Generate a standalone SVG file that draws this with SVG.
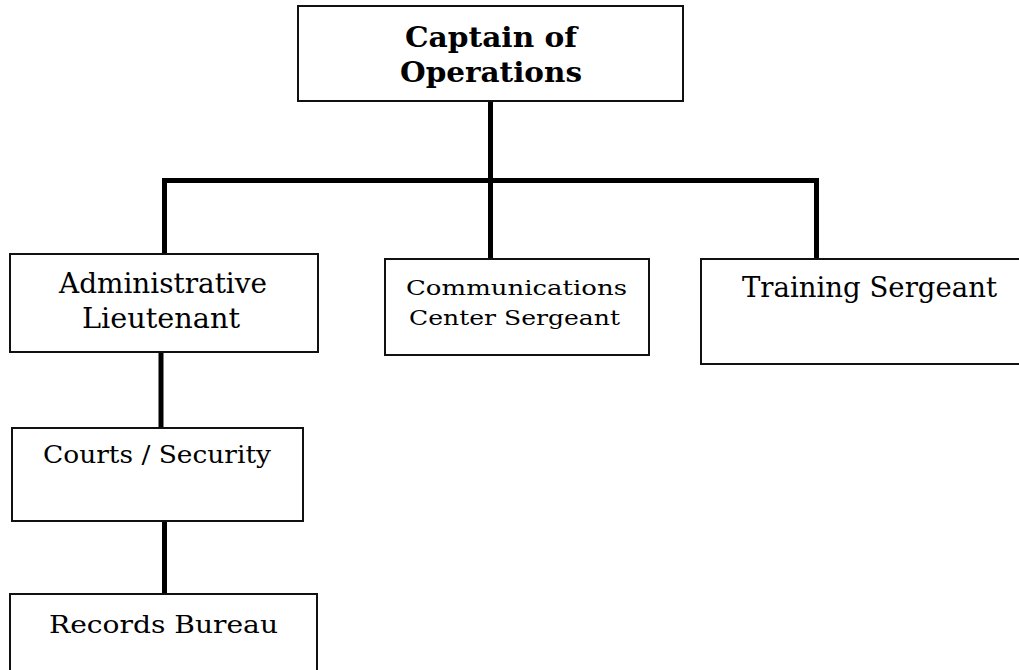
<svg xmlns="http://www.w3.org/2000/svg" width="1019" height="670" viewBox="0 0 1019 670">
  <style>
    .box { fill: #ffffff; stroke: #111111; stroke-width: 2; }
    .lbl { font-family: "DejaVu Serif", "Liberation Serif", serif; fill: #000000; text-anchor: middle; }
    .title { font-weight: bold; font-size: 27px; }
    .conn { stroke: #000000; stroke-width: 5; fill: none; stroke-linecap: square; }
  </style>
  <rect x="0" y="0" width="1019" height="670" fill="#ffffff"/>
  <g id="connectors">
    <line class="conn" x1="490.5" y1="103" x2="490.5" y2="257"/>
    <line class="conn" x1="164.5" y1="180.5" x2="816.5" y2="180.5"/>
    <line class="conn" x1="164.5" y1="180.5" x2="164.5" y2="252"/>
    <line class="conn" x1="816.5" y1="180.5" x2="816.5" y2="257"/>
    <line class="conn" x1="161" y1="354" x2="161" y2="426"/>
    <line class="conn" x1="164.5" y1="523" x2="164.5" y2="592"/>
  </g>
  <g id="captain">
    <rect class="box" x="298" y="6" width="385" height="95"/>
    <text class="lbl title" x="491" y="47" textLength="172" lengthAdjust="spacingAndGlyphs">Captain of</text>
    <text class="lbl title" x="491" y="82" textLength="182" lengthAdjust="spacingAndGlyphs">Operations</text>
  </g>
  <g id="admin">
    <rect class="box" x="10" y="254" width="308" height="98"/>
    <text class="lbl" x="163" y="293" font-size="27" textLength="208" lengthAdjust="spacingAndGlyphs">Administrative</text>
    <text class="lbl" x="161" y="328" font-size="27" textLength="158" lengthAdjust="spacingAndGlyphs">Lieutenant</text>
  </g>
  <g id="comm">
    <rect class="box" x="385" y="259" width="264" height="96"/>
    <text class="lbl" x="516.5" y="295" font-size="21" textLength="221" lengthAdjust="spacingAndGlyphs">Communications</text>
    <text class="lbl" x="514.5" y="325" font-size="21" textLength="211" lengthAdjust="spacingAndGlyphs">Center Sergeant</text>
  </g>
  <g id="training">
    <rect class="box" x="701" y="259" width="336" height="105"/>
    <text class="lbl" x="869.5" y="297" font-size="27" textLength="255" lengthAdjust="spacingAndGlyphs">Training Sergeant</text>
  </g>
  <g id="courts">
    <rect class="box" x="12" y="428" width="291" height="93"/>
    <text class="lbl" x="157" y="463" font-size="25" textLength="228" lengthAdjust="spacingAndGlyphs">Courts / Security</text>
  </g>
  <g id="records">
    <rect class="box" x="10" y="594" width="307" height="80"/>
    <text class="lbl" x="163.5" y="633" font-size="25" textLength="229" lengthAdjust="spacingAndGlyphs">Records Bureau</text>
  </g>
</svg>
